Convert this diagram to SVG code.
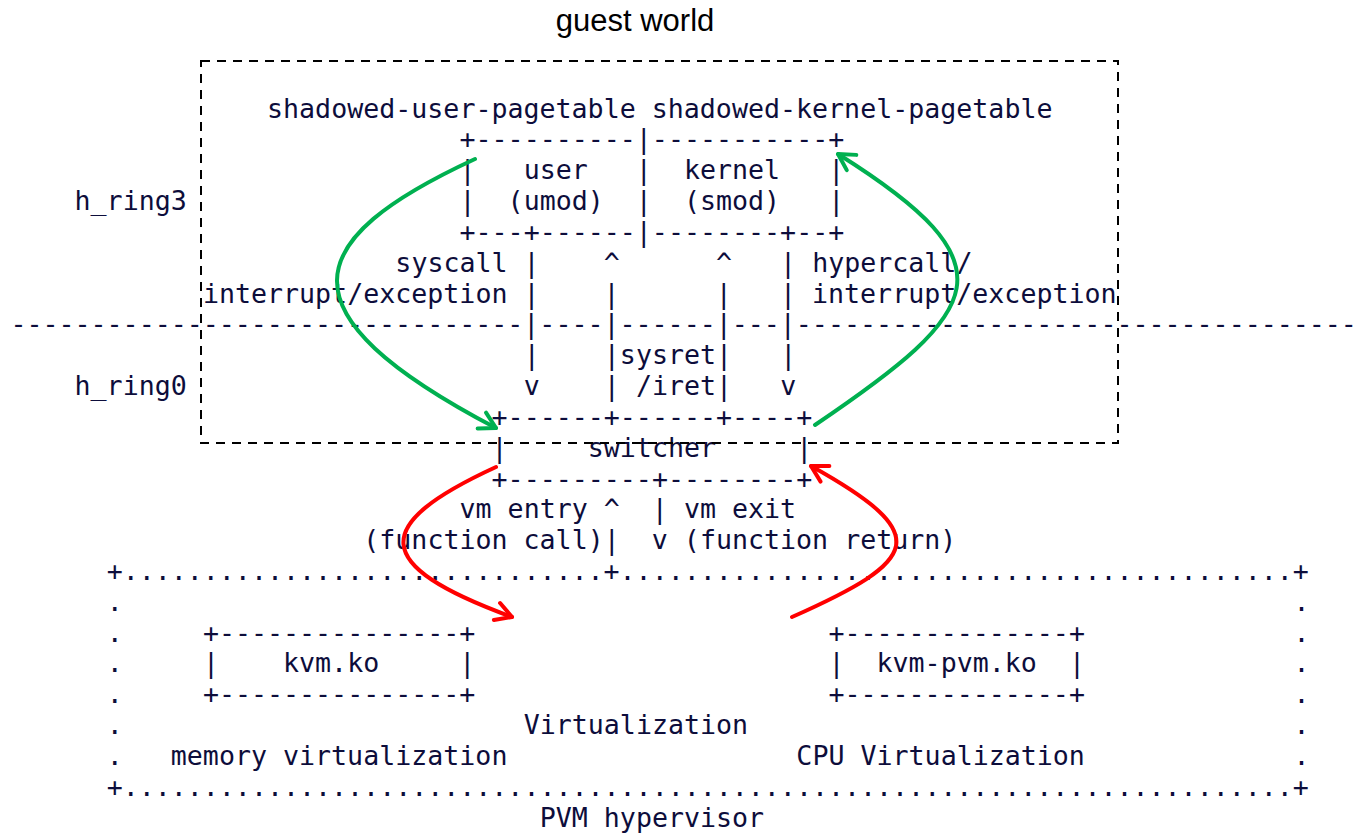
<svg xmlns="http://www.w3.org/2000/svg" width="1360" height="834" viewBox="0 0 1360 834" xml:space="preserve">
  <style>
    .t { font-family: "DejaVu Sans Mono", "Liberation Mono", monospace; font-size: 26.64px; fill: #0d0d3b; white-space: pre; }
    .title { font-family: "Liberation Sans", Arial, sans-serif; font-size: 31px; fill: #000; text-anchor: middle; }
    .frame { fill: none; stroke: #000; stroke-width: 2; stroke-dasharray: 9 7; }
    .g-arrow { fill: none; stroke: #00b050; stroke-width: 4; stroke-linecap: round; }
    .r-arrow { fill: none; stroke: #ff0000; stroke-width: 4; stroke-linecap: round; }
  </style>
  <defs>
    <marker id="headGreen" markerUnits="userSpaceOnUse" markerWidth="24" markerHeight="24" viewBox="0 0 24 24" refX="20" refY="12" orient="auto" overflow="visible">
      <path d="M4,3 L20,12 L4,21" fill="none" stroke="#00b050" stroke-width="4" stroke-linecap="round" stroke-linejoin="round"/>
    </marker>
    <marker id="headRed" markerUnits="userSpaceOnUse" markerWidth="24" markerHeight="24" viewBox="0 0 24 24" refX="20" refY="12" orient="auto" overflow="visible">
      <path d="M4,3 L20,12 L4,21" fill="none" stroke="#ff0000" stroke-width="4" stroke-linecap="round" stroke-linejoin="round"/>
    </marker>
  </defs>
  <rect width="1360" height="834" fill="#fff"/>

  <!-- ring labels -->
  <g id="ring-labels">
    <text class="t" x="74.56" y="210.0">h_ring3</text>
    <text class="t" x="74.56" y="394.9">h_ring0</text>
  </g>

  <!-- shadowed page tables: user / kernel halves -->
  <g id="pagetables">
    <text class="t" x="267.04" y="117.5">shadowed-user-pagetable shadowed-kernel-pagetable</text>
    <text class="t" x="459.52" y="148.3">+----------|-----------+</text>
    <text class="t" x="459.52" y="179.2">|   user   |  kernel   |</text>
    <text class="t" x="459.52" y="210.0">|  (umod)  |  (smod)   |</text>
    <text class="t" x="459.52" y="240.8">+---+------|--------+--+</text>
  </g>

  <!-- privilege transitions across the ring boundary -->
  <g id="ring-transitions">
    <text class="t" x="395.36" y="271.7">syscall |    ^      ^   | hypercall/</text>
    <text class="t" x="202.88" y="302.5">interrupt/exception |    |      |   | interrupt/exception</text>
    <text class="t" x="10.4" y="333.3">--------------------------------|----|------|---|-----------------------------------</text>
    <text class="t" x="523.68" y="364.1">|    |sysret|   |</text>
    <text class="t" x="523.68" y="395.0">v    | /iret|   v</text>
  </g>

  <!-- switcher -->
  <g id="switcher">
    <text class="t" x="491.6" y="425.8">+------+------+----+</text>
    <text class="t" x="491.6" y="456.6">|     switcher     |</text>
    <text class="t" x="491.6" y="487.5">+---------+--------+</text>
  </g>

  <!-- vm entry / vm exit -->
  <g id="vm-transitions">
    <text class="t" x="459.52" y="518.3">vm entry ^  | vm exit</text>
    <text class="t" x="363.28" y="549.1">(function call)|  v (function return)</text>
  </g>

  <!-- guest world frame -->
  <g id="guest-world">
    <rect class="frame" x="201" y="61" width="917" height="382"/>
    <text class="title" x="635" y="31">guest world</text>
  </g>

  <!-- PVM hypervisor frame -->
  <g id="pvm-hypervisor">
    <text class="t" x="106.64" y="580.0">+..............................+..........................................+</text>
    <text class="t" x="106.64" y="610.8">.</text><text class="t" x="1293.6" y="610.8">.</text>
    <text class="t" x="106.64" y="641.6">.</text><text class="t" x="1293.6" y="641.6">.</text>
    <text class="t" x="106.64" y="672.4">.</text><text class="t" x="1293.6" y="672.4">.</text>
    <text class="t" x="106.64" y="703.3">.</text><text class="t" x="1293.6" y="703.3">.</text>
    <text class="t" x="106.64" y="734.1">.</text><text class="t" x="1293.6" y="734.1">.</text>
    <text class="t" x="106.64" y="764.9">.</text><text class="t" x="1293.6" y="764.9">.</text>
    <text class="t" x="106.64" y="795.8">+.........................................................................+</text>
    <text class="t" x="523.68" y="734.1">Virtualization</text>
    <text class="t" x="539.72" y="826.6">PVM hypervisor</text>
  </g>

  <!-- kvm.ko module -->
  <g id="kvm">
    <text class="t" x="202.88" y="641.6">+---------------+</text>
    <text class="t" x="202.88" y="672.4">|    kvm.ko     |</text>
    <text class="t" x="202.88" y="703.3">+---------------+</text>
    <text class="t" x="170.8" y="764.9">memory virtualization</text>
  </g>

  <!-- kvm-pvm.ko module -->
  <g id="kvm-pvm">
    <text class="t" x="828.44" y="641.6">+--------------+</text>
    <text class="t" x="828.44" y="672.4">|  kvm-pvm.ko  |</text>
    <text class="t" x="828.44" y="703.3">+--------------+</text>
    <text class="t" x="796.36" y="764.9">CPU Virtualization</text>
  </g>

  <!-- control-flow arrows -->
  <g id="connectors">
    <path class="g-arrow" d="M475,159 C300,240 275,312 496,428" marker-end="url(#headGreen)"/>
    <path class="g-arrow" d="M815,425 C985,310 1015,265 838,154" marker-end="url(#headGreen)"/>
    <path class="r-arrow" d="M496,467 C370,525 370,565 512,617" marker-end="url(#headRed)"/>
    <path class="r-arrow" d="M792,617 C920,560 935,535 811,466" marker-end="url(#headRed)"/>
  </g>
</svg>
